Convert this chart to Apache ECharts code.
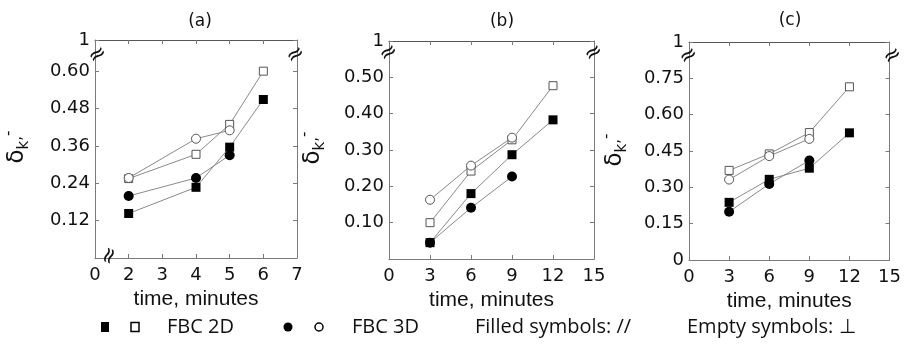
<!DOCTYPE html>
<html>
<head>
<meta charset="utf-8">
<script src="https://cdn.jsdelivr.net/npm/echarts@6/dist/echarts.min.js"></script>
<style>html,body{margin:0;padding:0;background:#fff}#c{width:904px;height:350px}</style>
</head>
<body>
<div id="c"></div>
<script>
// ---- data ----
const panelTitles = ['(a)', '(b)', '(c)'];
const xA = [2, 4, 5, 6];
const a2dFilled = [0.143, 0.227, 0.356, 0.509];
const a3dFilled = [0.199, 0.257, 0.330];
const a2dEmpty  = [0.255, 0.333, 0.429, 0.600];
const a3dEmpty  = [0.257, 0.383, 0.410];

const xB = [3, 6, 9, 12];
const b2dFilled = [0.045, 0.180, 0.287, 0.383];
const b3dFilled = [0.045, 0.141, 0.227];
const b2dEmpty  = [0.100, 0.242, 0.328, 0.477];
const b3dEmpty  = [0.163, 0.257, 0.334];

const xC = [3, 6, 9, 12];
const c2dFilled = [0.238, 0.333, 0.379, 0.525];
const c3dFilled = [0.199, 0.314, 0.411];
const c2dEmpty  = [0.370, 0.438, 0.526, 0.715];
const c3dEmpty  = [0.332, 0.429, 0.500];

const legendLabels = ['FBC 2D', 'FBC 3D', 'Filled symbols: //', 'Empty symbols: \u22A5'];
const xAxisName = 'time, minutes';
const yAxisName = '{d|\u03B4}{k|k}{c|,}{m|-}';

// ---- layout ----
const grids = [
  {left: 95, top: 40, width: 202, height: 218},
  {left: 389, top: 41, width: 205, height: 218},
  {left: 689, top: 42, width: 204, height: 218}
];
const xCfg = [
  {min: 1, max: 7, interval: 1, zeroAt: 1},
  {min: 0, max: 15, interval: 3, zeroAt: 0},
  {min: 0, max: 15, interval: 3, zeroAt: 0}
];
const yCfg = [
  {min: 0, max: 0.7, interval: 0.12, zeroLabel: ''},
  {min: 0, max: 0.6, interval: 0.1, zeroLabel: ''},
  {min: 0, max: 0.9, interval: 0.15, zeroLabel: '0'}
];
const yNamePos = [[17, 147], [313, 148], [615, 150]];
const axisColor = '#7a7a7a';
const tickFont = 'DejaVu Sans';

const xAxes = [], yAxes = [], series = [];
function pairs(xs, ys) { return ys.map((v, i) => [xs[i], v]); }
const panelData = [
  [xA, a2dFilled, a3dFilled, a2dEmpty, a3dEmpty],
  [xB, b2dFilled, b3dFilled, b2dEmpty, b3dEmpty],
  [xC, c2dFilled, c3dFilled, c2dEmpty, c3dEmpty]
];

grids.forEach((g, i) => {
  const xc = xCfg[i], yc = yCfg[i];
  const baseLine = {show: true, onZero: false, lineStyle: {color: axisColor, width: 1}};
  const topLine = {show: true, onZero: false, lineStyle: {color: '#555', width: 1}};
  const tick = {show: true, inside: true, length: 4, lineStyle: {color: axisColor}};
  xAxes.push({
    type: 'value', gridIndex: i, position: 'bottom', min: xc.min, max: xc.max, interval: xc.interval,
    axisLine: baseLine, axisTick: tick, splitLine: {show: false},
    axisLabel: {margin: 8, color: '#111', fontFamily: tickFont, fontSize: 18,
      formatter: v => (Math.abs(v - xc.zeroAt) < 1e-9 ? '0' : String(v))},
    name: xAxisName, nameLocation: 'middle', nameGap: 31,
    nameTextStyle: {fontFamily: 'Liberation Sans', fontSize: 21, color: '#111'}
  });
  xAxes.push({
    type: 'value', gridIndex: i, position: 'top', min: xc.min, max: xc.max, interval: xc.interval,
    axisLine: topLine, axisTick: tick, axisLabel: {show: false}, splitLine: {show: false}
  });
  yAxes.push({
    type: 'value', gridIndex: i, position: 'left', min: yc.min, max: yc.max, interval: yc.interval,
    axisLine: baseLine, axisTick: tick, splitLine: {show: false},
    axisLabel: {margin: 5, color: '#111', fontFamily: tickFont, fontSize: 18,
      formatter: v => {
        if (Math.abs(v - yc.max) < 1e-9) return '1';
        if (Math.abs(v) < 1e-9) return yc.zeroLabel;
        return v.toFixed(2);
      }}
  });
  yAxes.push({
    type: 'value', gridIndex: i, position: 'right', min: yc.min, max: yc.max, interval: yc.interval,
    axisLine: baseLine, axisTick: tick, axisLabel: {show: false}, splitLine: {show: false}
  });
  const [xs, f2, f3, e2, e3] = panelData[i];
  const line = {color: '#8a8a8a', width: 1};
  const common = {type: 'line', xAxisIndex: 2 * i, yAxisIndex: 2 * i, lineStyle: line, animation: false, z: 3};
  series.push(Object.assign({}, common, {name: 'FBC 2D filled ' + i, data: pairs(xs, f2), symbol: 'rect', symbolSize: 9,
    itemStyle: {color: '#000', borderWidth: 0}}));
  series.push(Object.assign({}, common, {name: 'FBC 3D filled ' + i, data: pairs(xs, f3), symbol: 'circle', symbolSize: 10,
    itemStyle: {color: '#000', borderWidth: 0}}));
  series.push(Object.assign({}, common, {name: 'FBC 2D empty ' + i, data: pairs(xs, e2), symbol: 'rect', symbolSize: 8,
    itemStyle: {color: '#fff', borderColor: '#555', borderWidth: 1}}));
  series.push(Object.assign({}, common, {name: 'FBC 3D empty ' + i, data: pairs(xs, e3), symbol: 'circle', symbolSize: 9,
    itemStyle: {color: '#fff', borderColor: '#555', borderWidth: 1}}));
});

const titles = [
  {text: panelTitles[0], left: 195, top: 8, textAlign: 'center'},
  {text: panelTitles[1], left: 497, top: 8, textAlign: 'center'},
  {text: panelTitles[2], left: 785, top: 7, textAlign: 'center'}
].map(t => Object.assign(t, {textStyle: {fontFamily: 'DejaVu Sans', fontSize: 17, fontWeight: 'normal', color: '#111'}}));

// break marks
const brk = (x, y, rot) => ({type: 'text', x: x, y: y, rotation: rot, z: 10,
  style: {text: '\u2248', font: '22px DejaVu Sans', fill: '#111', align: 'center', verticalAlign: 'middle'}});
const graphics = [
  brk(98, 55, 0.6), brk(296, 55, 0.6),
  brk(110, 256, 1.2),
  brk(389, 53, 0.6), brk(594, 53, 0.6),
  brk(689, 56, 0.6), brk(893, 56, 0.6)
];
// y axis names
yNamePos.forEach(p => graphics.push({
  type: 'text', x: p[0], y: p[1], rotation: Math.PI / 2, z: 10,
  style: {
    text: yAxisName, align: 'center', verticalAlign: 'middle', fill: '#111',
    rich: {
      d: {fontFamily: 'DejaVu Sans', fontSize: 23, fill: '#111', lineHeight: 30, verticalAlign: 'middle'},
      k: {fontFamily: 'DejaVu Sans', fontSize: 15, fill: '#111', lineHeight: 15, verticalAlign: 'bottom'},
      c: {fontFamily: 'DejaVu Sans', fontSize: 15, fill: '#111', lineHeight: 15, verticalAlign: 'middle'},
      m: {fontFamily: 'DejaVu Sans', fontSize: 15, fill: '#111', lineHeight: 15, verticalAlign: 'top'}
    }
  }
}));
// legend decorations
const legFont = '20px "Open Sans"';
const ly = 327;
graphics.push(
  {type: 'rect', shape: {x: 101, y: ly - 5, width: 8, height: 10}, style: {fill: '#000'}},
  {type: 'rect', shape: {x: 131, y: ly - 4.5, width: 8, height: 9}, style: {fill: '#fff', stroke: '#000', lineWidth: 1.5}},
  {type: 'text', x: 167, y: ly, style: {text: legendLabels[0], font: legFont, fill: '#111', verticalAlign: 'middle'}},
  {type: 'circle', shape: {cx: 288, cy: ly, r: 4.5}, style: {fill: '#000'}},
  {type: 'circle', shape: {cx: 319, cy: ly, r: 4}, style: {fill: '#fff', stroke: '#000', lineWidth: 1.5}},
  {type: 'text', x: 352, y: ly, style: {text: legendLabels[1], font: legFont, fill: '#111', verticalAlign: 'middle'}},
  {type: 'text', x: 475, y: ly, style: {text: legendLabels[2], font: legFont, fill: '#111', verticalAlign: 'middle'}},
  {type: 'text', x: 687, y: ly, style: {text: legendLabels[3], font: legFont, fill: '#111', verticalAlign: 'middle'}}
);

const chart = echarts.init(document.getElementById('c'), null, {renderer: 'canvas'});
chart.setOption({
  animation: false,
  backgroundColor: '#fff',
  title: titles,
  grid: grids,
  xAxis: xAxes,
  yAxis: yAxes,
  series: series,
  graphic: graphics
});
</script>
</body>
</html>
